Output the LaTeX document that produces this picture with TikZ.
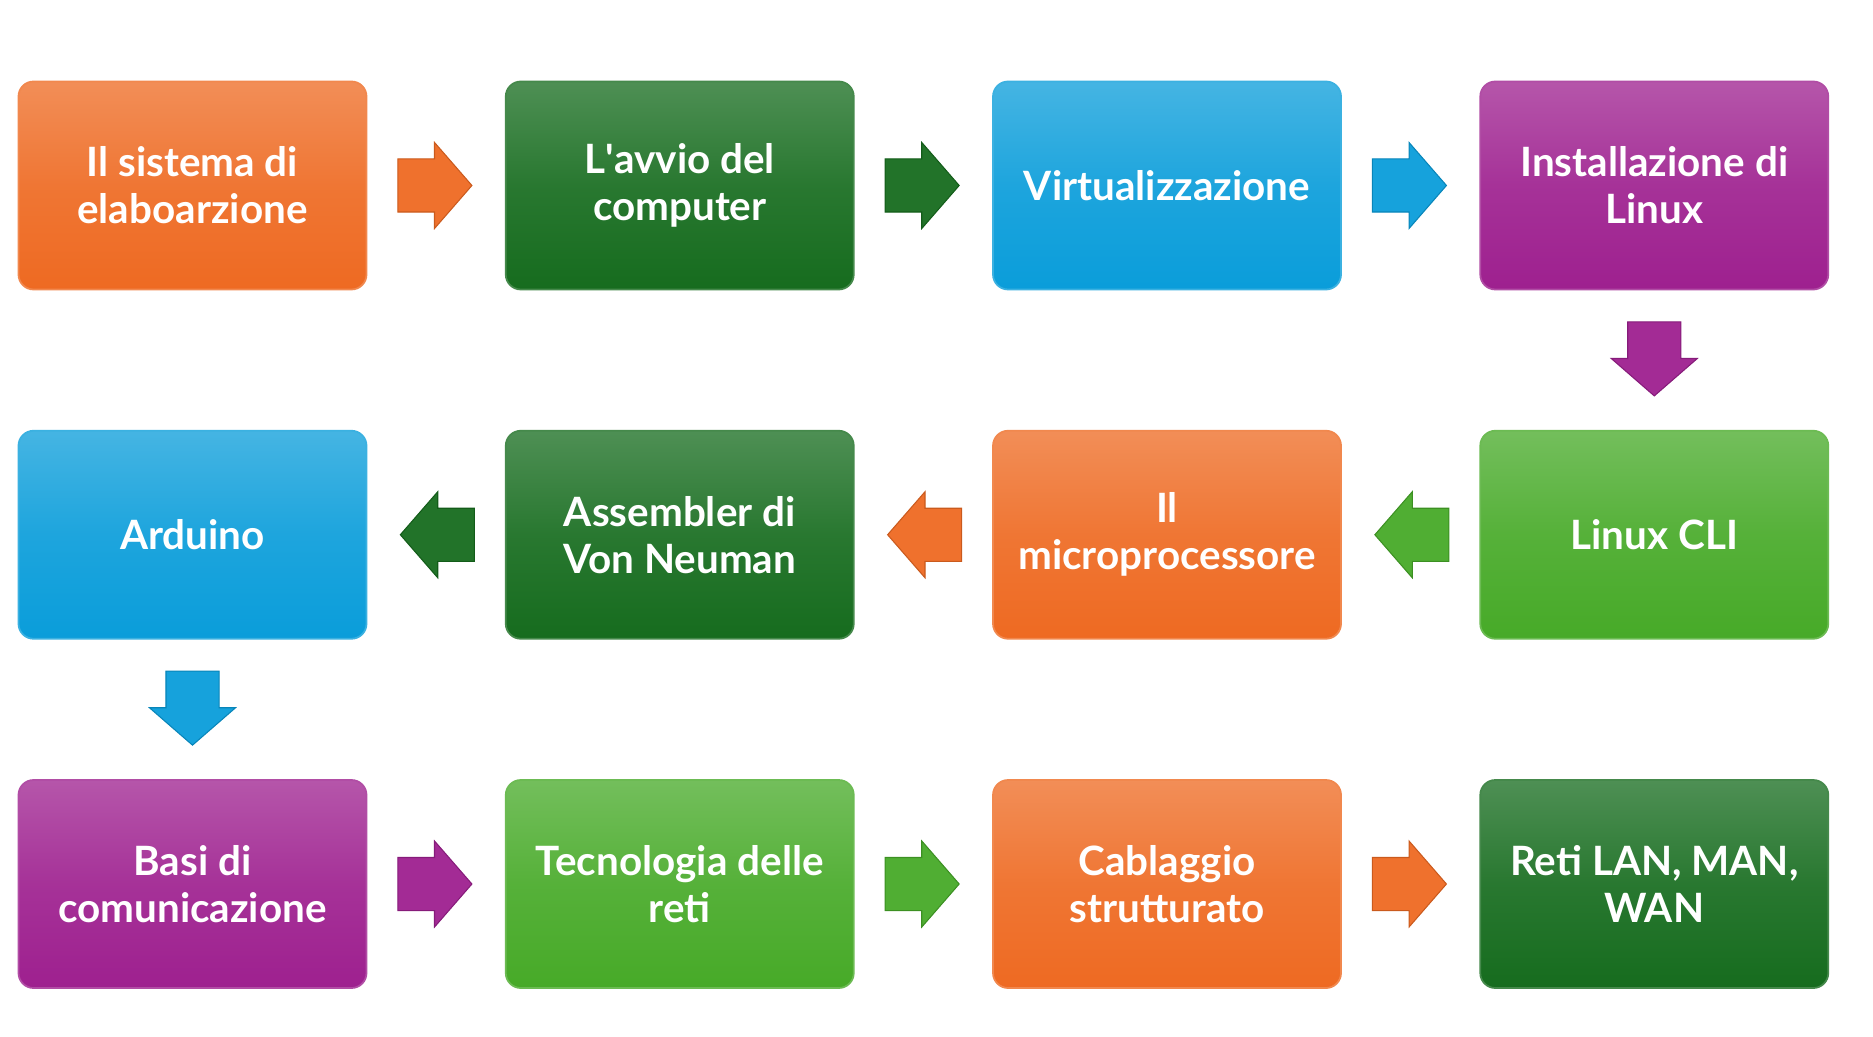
\documentclass[tikz,border=0pt]{standalone}
\usepackage{fontspec}
\setmainfont{Lato}
\usetikzlibrary{positioning,calc,shapes.arrows}

\definecolor{arancio}{HTML}{EE6A22}
\definecolor{verdescuro}{HTML}{166C1E}
\definecolor{azzurro}{HTML}{0A9DDA}
\definecolor{viola}{HTML}{9E208F}
\definecolor{verdechiaro}{HTML}{47AA28}

\tikzset{
  tappa/.style={rounded corners=0.15cm, minimum width=3.48cm, minimum height=2.08cm,
    inner xsep=2pt, align=center, text=white,
    font=\fontsize{11.5}{13.4}\selectfont\bfseries,
    top color=#1!76!white, bottom color=#1, middle color=#1!92!white,
    draw=#1!80!white, line width=0.5pt,
    append after command={
      \pgfextra{\draw[white, opacity=0.35, line width=1.2pt, rounded corners=0.12cm]
        ([shift={(0.07,-0.07)}]\tikzlastnode.north west) rectangle
        ([shift={(-0.07,0.07)}]\tikzlastnode.south east);}}},
  freccia/.style={single arrow, fill=#1!95!white, draw=#1!85!black, line width=0.3pt,
    anchor=tail, inner xsep=0pt, inner ysep=0.26cm, minimum height=0.74cm,
    single arrow head extend=0.165cm, single arrow tip angle=98},
  giu/.style={shape border rotate=270, inner xsep=0.26cm, inner ysep=0pt},
  sinistra/.style={shape border rotate=180}
}

\begin{document}
\begin{tikzpicture}
  \useasboundingbox (0,0) rectangle (18.73,10.36);

  % prima riga
  \node[tappa=arancio] (b1) at (1.925,8.505) {Il sistema di\\elaboarzione};
  \node[tappa=verdescuro, right=1.375cm of b1] (b2) {L\textquotesingle avvio del\\computer};
  \node[tappa=azzurro, right=1.375cm of b2] (b3) {Virtualizzazione};
  \node[tappa=viola, right=1.375cm of b3] (b4) {Installazione di\\Linux};

  % seconda riga, da destra a sinistra
  \node[tappa=verdechiaro, below=1.395cm of b4] (b5) {Linux CLI};
  \node[tappa=arancio, left=1.375cm of b5] (b6) {Il\\microprocessore};
  \node[tappa=verdescuro, left=1.375cm of b6] (b7) {Assembler di\\Von Neuman};
  \node[tappa=azzurro, left=1.375cm of b7] (b8) {Arduino};

  % terza riga
  \node[tappa=viola, below=1.395cm of b8] (b9) {Basi di\\comunicazione};
  \node[tappa=verdechiaro, right=1.375cm of b9] (b10) {Tecnologia delle\\reti};
  \node[tappa=arancio, right=1.375cm of b10] (b11) {Cablaggio\\strutturato};
  \node[tappa=verdescuro, right=1.375cm of b11] (b12) {Reti LAN, MAN,\\WAN};

  % frecce
  \node[freccia=arancio] (f1) at ($(b1.east)+(0.3,0)$) {};
  \node[freccia=verdescuro] (f2) at ($(b2.east)+(0.3,0)$) {};
  \node[freccia=azzurro] (f3) at ($(b3.east)+(0.3,0)$) {};
  \node[freccia=viola, giu] (f4) at ($(b4.south)+(0,-0.31)$) {};
  \node[freccia=verdechiaro, sinistra] (f5) at ($(b5.west)+(-0.3,0)$) {};
  \node[freccia=arancio, sinistra] (f6) at ($(b6.west)+(-0.3,0)$) {};
  \node[freccia=verdescuro, sinistra] (f7) at ($(b7.west)+(-0.3,0)$) {};
  \node[freccia=azzurro, giu] (f8) at ($(b8.south)+(0,-0.31)$) {};
  \node[freccia=viola] (f9) at ($(b9.east)+(0.3,0)$) {};
  \node[freccia=verdechiaro] (f10) at ($(b10.east)+(0.3,0)$) {};
  \node[freccia=arancio] (f11) at ($(b11.east)+(0.3,0)$) {};
\end{tikzpicture}
\end{document}
